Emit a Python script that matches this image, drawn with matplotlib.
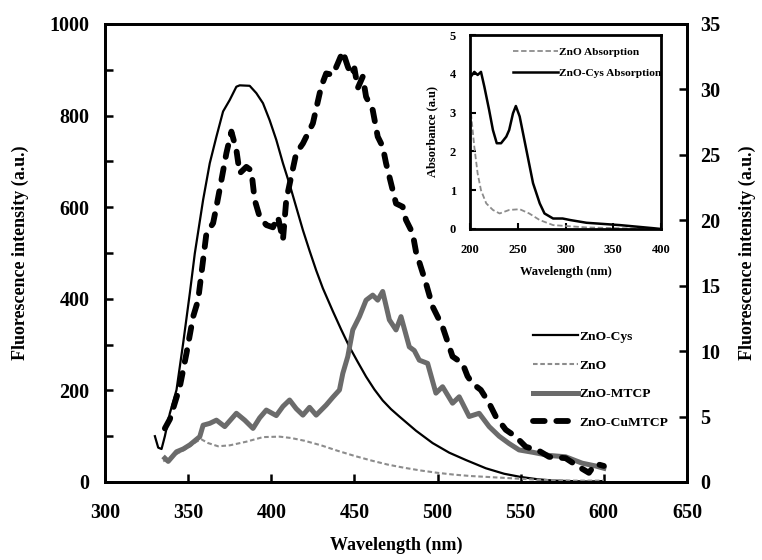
"""
Fluorescence spectra of ZnO samples, with the UV-vis absorption spectra as an inset.
Values were read off the published figure.
"""

import matplotlib
matplotlib.use("Agg")
import matplotlib.pyplot as plt
from matplotlib.ticker import MultipleLocator

plt.rcParams["font.family"] = ["Liberation Serif", "DejaVu Serif"]
plt.rcParams["font.weight"] = "bold"

# ZnO-Cys emission (thin black line)
cys_wl = [330, 332, 334, 336, 339, 343, 347, 351, 354, 359, 363, 367, 371, 375,
          379, 381, 387, 391, 395, 399, 403, 407, 411, 415, 419, 423, 427, 431,
          437, 442, 447, 452, 457, 462, 467, 472, 477, 487, 497, 507, 517, 529,
          540, 550, 560, 570, 580, 590, 600]
cys_int = [100, 75, 72, 100, 150, 201, 303, 412, 499, 616, 696, 754, 809, 834,
           863, 866, 865, 849, 827, 790, 747, 696, 650, 600, 550, 505, 462, 423,
           373, 333, 295, 262, 230, 202, 178, 159, 143, 112, 85, 64, 48, 30,
           18, 11, 6, 3, 2, 1, 2]

# bare ZnO emission (light grey dashed)
zno_wl = [335, 340, 345, 350, 355, 358, 362, 368, 375, 385, 395, 405, 412, 420,
          430, 440, 450, 460, 470, 480, 490, 500, 510, 520, 530, 540, 550, 560,
          570, 580, 590, 600]
zno_int = [45, 55, 65, 75, 88, 93, 85, 78, 80, 88, 98, 99, 96, 90,
           80, 68, 57, 47, 38, 31, 25, 20, 16, 13, 11, 9, 7, 5,
           4, 3, 3, 3]

# ZnO-MTCP emission (thick grey line)
mtcp_wl = [336, 338, 343, 347, 351, 357, 359, 363, 367, 372, 379, 384, 389, 393,
           397, 403, 407, 411, 415, 419, 423, 427, 433, 437, 441, 443, 446, 449,
           453, 457, 461, 464, 467, 471, 475, 478, 483, 486, 489, 494, 499, 503,
           509, 513, 519, 525, 531, 537, 543, 549, 557, 567, 577, 587, 595, 600]
mtcp_int = [52, 45, 66, 72, 81, 99, 124, 128, 135, 121, 150, 135, 117, 140,
            157, 145, 165, 179, 160, 146, 163, 146, 168, 185, 201, 237, 274, 332,
            361, 397, 408, 397, 416, 354, 332, 361, 295, 287, 266, 259, 194, 208,
            172, 186, 143, 150, 121, 100, 84, 70, 65, 58, 55, 41, 35, 30]

# ZnO-CuMTCP emission (thick black dashed)
cu_wl = [336, 339, 345, 349, 353, 356, 359, 361, 365, 367, 370, 373, 376, 379,
         381, 385, 388, 390, 393, 397, 401, 404, 407, 409, 412, 415, 419, 425,
         430, 433, 437, 440, 443, 446, 448, 450, 452, 455, 457, 461, 464, 467,
         469, 472, 475, 479, 481, 485, 487, 493, 497, 503, 509, 515, 518, 521,
         526, 531, 535, 541, 547, 553, 561, 567, 577, 585, 591, 595, 600]
cu_int = [117, 137, 208, 281, 361, 397, 485, 543, 565, 601, 659, 718, 765, 725,
          674, 688, 680, 616, 579, 561, 556, 579, 528, 616, 667, 718, 739, 783,
          863, 892, 889, 914, 940, 907, 889, 903, 860, 885, 841, 812, 754, 732,
          696, 652, 608, 601, 572, 543, 503, 434, 383, 339, 274, 259, 231, 215,
          201, 172, 143, 114, 99, 77, 68, 55, 52, 33, 20, 40, 35]

# inset: absorption spectra
abs_cys_wl = [201, 204.5, 208, 211.5, 215, 220, 224, 228, 232.5, 238, 241, 245,
              248, 252, 259, 266, 273, 278, 287, 297, 305, 322, 357, 392, 400]
abs_cys = [3.93, 4.05, 3.97, 4.05, 3.67, 3.07, 2.55, 2.21, 2.21, 2.38, 2.55, 2.98,
           3.17, 2.9, 2.04, 1.18, 0.66, 0.40, 0.27, 0.27, 0.23, 0.16, 0.10, 0.02, 0.0]
abs_zno_wl = [201, 204.5, 208, 211.5, 217, 224, 231, 241, 252, 262, 273, 287,
              322, 357, 400]
abs_zno = [2.98, 2.12, 1.43, 1.0, 0.66, 0.49, 0.40, 0.49, 0.51, 0.40, 0.23, 0.10,
           0.04, 0.02, 0.0]

fig = plt.figure(figsize=(7.62, 5.60), dpi=100)
ax = fig.add_axes([0.1378, 0.1393, 0.7638, 0.8179])

ax.plot(cys_wl, cys_int, color="black", lw=1.6, label="ZnO-Cys")
ax.plot(zno_wl, zno_int, color="#8c8c8c", lw=1.5, dashes=(2.2, 1.3), label="ZnO")
ax.plot(mtcp_wl, mtcp_int, color="#6b6b6b", lw=3.6, label="ZnO-MTCP")
ax.plot(cu_wl, cu_int, color="black", lw=4.2, dashes=(2.0, 2.0),
        dash_capstyle="round", label="ZnO-CuMTCP")

ax.set_xlim(300, 650)
ax.set_ylim(0, 1000)
ax.xaxis.set_major_locator(MultipleLocator(50))
ax.yaxis.set_major_locator(MultipleLocator(200))
ax.yaxis.set_minor_locator(MultipleLocator(100))
ax.tick_params(which="both", direction="in", labelsize=14.5, width=1.8, length=6)
ax.tick_params(axis="x", pad=15)
ax.tick_params(axis="y", pad=11)
for s in ax.spines.values():
    s.set_linewidth(2.0)
ax.set_xlabel("Wavelength (nm)", fontsize=13, fontweight="bold", labelpad=10)
ax.set_ylabel("Fluorescence intensity (a.u.)", fontsize=13, fontweight="bold", labelpad=15)

ax.legend(loc="center left", bbox_to_anchor=(0.714, 0.223), frameon=False,
          fontsize=9.7, handlelength=3.4, handletextpad=0.1, labelspacing=1.2)

# right axis just repeats the scale 0-35
ax2 = ax.twinx()
ax2.set_ylim(0, 35)
ax2.yaxis.set_major_locator(MultipleLocator(5))
ax2.tick_params(direction="in", labelsize=14.5, width=1.8, length=6, pad=9.5)
for s in ax2.spines.values():
    s.set_linewidth(2.0)
ax2.set_ylabel("Fluorescence intensity (a.u.)", fontsize=13, fontweight="bold",
               rotation=90, labelpad=13)

# inset
ins = fig.add_axes([0.6168, 0.5911, 0.2507, 0.3464])
ins.plot(abs_zno_wl, abs_zno, color="#8c8c8c", lw=1.3, dashes=(3, 1.5), label="ZnO Absorption")
ins.plot(abs_cys_wl, abs_cys, color="black", lw=1.8, label="ZnO-Cys Absorption")
ins.set_xlim(200, 400)
ins.set_ylim(0, 5)
ins.xaxis.set_major_locator(MultipleLocator(50))
ins.yaxis.set_major_locator(MultipleLocator(1))
ins.tick_params(direction="in", labelsize=9, width=1.5, length=4)
ins.tick_params(axis="x", pad=11)
ins.tick_params(axis="y", pad=10)
for s in ins.spines.values():
    s.set_linewidth(2.0)
ins.set_xlabel("Wavelength (nm)", fontsize=9, fontweight="bold", labelpad=7)
ins.set_ylabel("Absorbance (a.u)", fontsize=9, fontweight="bold", labelpad=8)
ins.legend(loc="upper right", bbox_to_anchor=(1.024, 0.961), frameon=False,
           fontsize=8.2, handlelength=3.9, handletextpad=0.1, borderaxespad=0,
           labelspacing=1.0)

fig.savefig("out.png", dpi=100)
